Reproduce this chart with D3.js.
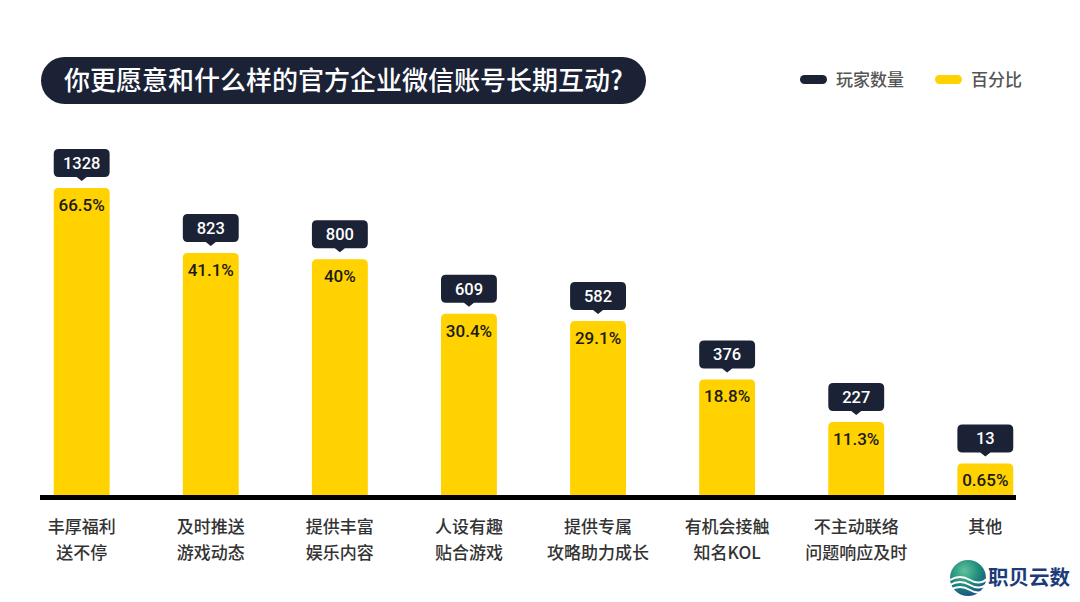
<!DOCTYPE html>
<html><head><meta charset="utf-8">
<script src="https://cdn.jsdelivr.net/npm/d3@7/dist/d3.min.js"></script>
<style>
html,body{margin:0;padding:0;background:#fff;}
svg{display:block;font-family:"Noto Sans CJK SC","Noto Sans",sans-serif;}
</style></head>
<body>
<script>
const title = "你更愿意和什么样的官方企业微信账号长期互动?";
const categories = [
  ["丰厚福利","送不停"],
  ["及时推送","游戏动态"],
  ["提供丰富","娱乐内容"],
  ["人设有趣","贴合游戏"],
  ["提供专属","攻略助力成长"],
  ["有机会接触","知名KOL"],
  ["不主动联络","问题响应及时"],
  ["其他"]
];
const counts = [1328, 823, 800, 609, 582, 376, 227, 13];
const percents = [66.5, 41.1, 40, 30.4, 29.1, 18.8, 11.3, 0.65];
const percentLabels = ["66.5%","41.1%","40%","30.4%","29.1%","18.8%","11.3%","0.65%"];
const legendItems = [{name:"玩家数量", color:"#1b2236"}, {name:"百分比", color:"#FFD200"}];

const W = 1080, H = 602;
const DARK = "#1b2236", YEL = "#FFD200";
const svg = d3.select("body").append("svg").attr("width", W).attr("height", H);

// Title pill
svg.append("rect").attr("x", 41).attr("y", 57).attr("width", 605).attr("height", 47)
  .attr("rx", 23.5).attr("fill", DARK);
svg.append("text").attr("x", 64).attr("y", 90).attr("fill", "#fff")
  .attr("font-size", 26).attr("font-weight", 500).text(title);

// Legend
const lx = [800, 935];
legendItems.forEach((d, i) => {
  svg.append("rect").attr("x", lx[i]).attr("y", 75).attr("width", 27).attr("height", 9)
    .attr("rx", 4.5).attr("fill", d.color);
  svg.append("text").attr("x", lx[i] + 36).attr("y", 86).attr("font-size", 17)
    .attr("fill", "#555").attr("font-weight", 500).text(d.name);
});

// Scales
const baseY = 495;
const x = d3.scaleBand().domain(d3.range(categories.length)).range([15, 1052]).paddingInner(0.567).paddingOuter(0.3);
const y = d3.scaleLinear().domain([0, 11.3, 41.1, 66.5]).range([466, 422, 253, 188]);

const bw = x.bandwidth();
const g = svg.append("g");
const idx = d3.range(categories.length);

// Bars with rounded top corners
g.selectAll("path.bar").data(idx).join("path").attr("class","bar")
  .attr("fill", YEL)
  .attr("d", i => {
    const x0 = x(i), x1 = x0 + bw, t = y(percents[i]), r = 5;
    return `M${x0},${baseY}V${t + r}Q${x0},${t} ${x0 + r},${t}H${x1 - r}Q${x1},${t} ${x1},${t + r}V${baseY}Z`;
  });

// Percent labels
g.selectAll("text.pct").data(idx).join("text").attr("class","pct")
  .attr("x", i => x(i) + bw/2).attr("y", i => y(percents[i]) + 23)
  .attr("text-anchor","middle").attr("font-size", 17).attr("font-weight", 500)
  .attr("fill", "#1a1a1a").attr("font-family","Roboto, 'Noto Sans', sans-serif")
  .text(i => percentLabels[i]);

// Count callouts
const cg = g.selectAll("g.call").data(idx).join("g").attr("class","call")
  .attr("transform", i => `translate(${x(i) + bw/2},${y(percents[i]) - 7})`);
cg.append("path").attr("fill", DARK).attr("d", () => {
  const w = bw, h = 28, r = 5, hw = w/2;
  const top = -h - 4, bot = -4;
  return `M${-hw + r},${top}H${hw - r}Q${hw},${top} ${hw},${top + r}V${bot - r}Q${hw},${bot} ${hw - r},${bot}` +
    `H5L0,${bot + 4}L-5,${bot}H${-hw + r}Q${-hw},${bot} ${-hw},${bot - r}V${top + r}Q${-hw},${top} ${-hw + r},${top}Z`;
});
cg.append("text").attr("y", -12).attr("text-anchor","middle").attr("fill","#fff")
  .attr("font-size", 16.5).attr("font-weight", 500)
  .attr("font-family","Roboto, 'Noto Sans', sans-serif")
  .text(i => counts[i]);

// Axis line
svg.append("rect").attr("x", 40).attr("y", 495).attr("width", 976).attr("height", 5).attr("fill", "#000");

// Category labels
const lab = g.selectAll("text.cat").data(idx).join("text").attr("class","cat")
  .attr("x", i => x(i) + bw/2).attr("y", 533)
  .attr("text-anchor","middle").attr("font-size", 17).attr("fill","#333").attr("font-weight", 500);
lab.selectAll("tspan").data(i => categories[i].map(s => ({s, cx: x(i) + bw/2})))
  .join("tspan").attr("x", d => d.cx).attr("dy", (d, j) => j === 0 ? 0 : 26).text(d => d.s);

// Logo
const defs = svg.append("defs");
const grad = defs.append("radialGradient").attr("id","lg").attr("cx","40%").attr("cy","30%").attr("r","75%");
grad.append("stop").attr("offset","0%").attr("stop-color","#5fc39a");
grad.append("stop").attr("offset","55%").attr("stop-color","#1e8a7a");
grad.append("stop").attr("offset","100%").attr("stop-color","#1a4f8a");
svg.append("circle").attr("cx", 968).attr("cy", 578).attr("r", 18).attr("fill","url(#lg)");
[0,1,2].forEach(k => {
  svg.append("path").attr("fill","none").attr("stroke","#fff").attr("stroke-width",2)
    .attr("d", `M950,${580 + k*5}Q960,${574 + k*5} 970,${580 + k*5}T988,${578 + k*5}`);
});
svg.append("text").attr("x", 988).attr("y", 585).attr("font-size", 20.5).attr("font-weight", 700)
  .attr("fill","#1c3b78").text("职贝云数");
</script>
</body></html>
